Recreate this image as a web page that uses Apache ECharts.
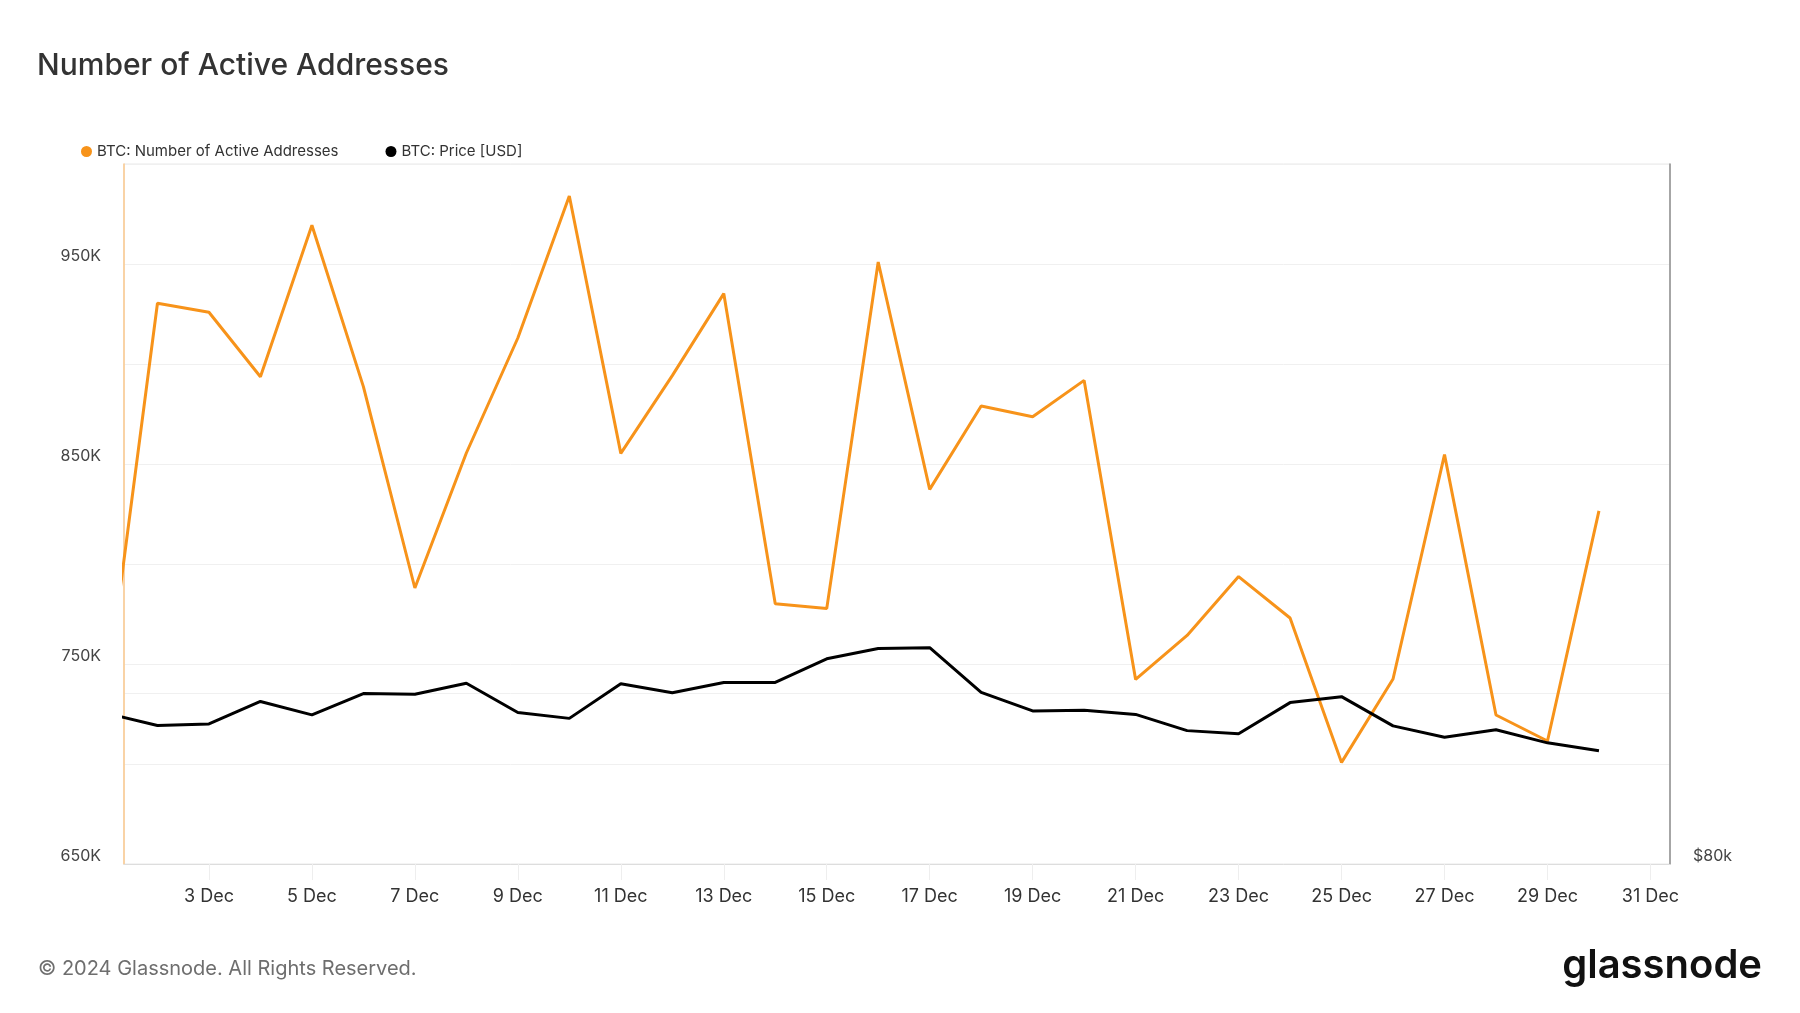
<!DOCTYPE html>
<html>
<head>
<meta charset="utf-8">
<script src="https://cdn.jsdelivr.net/npm/echarts@6/dist/echarts.min.js"></script>
<style>
  html, body { margin: 0; padding: 0; background: #fff; }
  #chart { width: 1800px; height: 1013px; }
</style>
</head>
<body>
<div id="chart"></div>
<script>
// ---- Data ----
const days = [1,2,3,4,5,6,7,8,9,10,11,12,13,14,15,16,17,18,19,20,21,22,23,24,25,26,27,28,29,30];
const activeAddresses = [733000, 930400, 925900, 893600, 969400, 888700, 788000, 855500, 913000, 984000,
                         855300, 894200, 935200, 780100, 777700, 951000, 837300, 879000, 873600, 891800,
                         742300, 764300, 793700, 773000, 700800, 742500, 854700, 724500, 711500, 826600];
const priceUSD = [97450, 95900, 96100, 98970, 97250, 100000, 99900, 101350, 97550, 96800,
                  101300, 100100, 101460, 101460, 104650, 106060, 106180, 100150, 97750, 97850,
                  97300, 95260, 94870, 98820, 99590, 95850, 94430, 95360, 93750, 92780];
const tickDays = [3,5,7,9,11,13,15,17,19,21,23,25,27,29,31];
const leftTickLabels = ['650K','750K','850K','950K'];
const rightTickLabel = '$80k';

const DAY = 86400000;
const ts = d => Date.UTC(2024, 11, d);
const xMin = ts(1) + 0.35 * DAY;
const xMax = ts(31) + 0.38 * DAY;
const tickValues = tickDays.map(ts);
const MONTHS = ['Jan','Feb','Mar','Apr','May','Jun','Jul','Aug','Sep','Oct','Nov','Dec'];

const orange = '#f7931a';
const FONT = 'Inter, "Noto Sans", sans-serif';

const chart = echarts.init(document.getElementById('chart'));
chart.setOption({
  animation: false,
  backgroundColor: '#ffffff',
  textStyle: { fontFamily: FONT },
  title: {
    text: 'Number of Active Addresses',
    left: 32, top: 46,
    textStyle: { fontFamily: FONT, fontSize: 30, fontWeight: 500, color: '#333333' }
  },
  legend: {
    left: 76, top: 139,
    itemWidth: 11, itemHeight: 11, itemGap: 47,
    icon: 'circle',
    textStyle: { fontFamily: FONT, fontSize: 15, color: '#333333' },
    data: ['BTC: Number of Active Addresses', 'BTC: Price [USD]']
  },
  grid: {
    left: 124, right: 130, top: 164, bottom: 149,
    show: true, borderColor: '#e8e8e8', borderWidth: 1, containLabel: false
  },
  xAxis: {
    type: 'value',
    min: xMin, max: xMax,
    axisLine: { show: true, lineStyle: { color: '#dddddd', width: 1 } },
    axisTick: { show: true, customValues: tickValues, length: 16, lineStyle: { color: '#eeeeee' } },
    splitLine: { show: false },
    axisLabel: {
      customValues: tickValues,
      margin: 24,
      fontFamily: FONT, fontSize: 18, color: '#333333',
      formatter: v => { const d = new Date(v); return d.getUTCDate() + ' ' + MONTHS[d.getUTCMonth()]; }
    }
  },
  yAxis: [
    {
      type: 'value',
      min: 650000, max: 1000000, interval: 50000,
      axisLine: { show: true, lineStyle: { color: '#fbc88c', width: 1.5 } },
      axisTick: { show: false },
      splitLine: { show: true, lineStyle: { color: '#f0f0f0', width: 1 } },
      axisLabel: {
        margin: 23,
        fontFamily: FONT, fontSize: 16, color: '#444444',
        verticalAlign: 'bottom',
        padding: [0, 0, 0, 0],
        formatter: v => {
          const k = Math.round(v / 1000);
          const lbl = k + 'K';
          return leftTickLabels.indexOf(lbl) >= 0 ? lbl : '';
        }
      }
    },
    {
      type: 'log', logBase: 10,
      min: 80000, max: 200000,
      position: 'right',
      axisLine: { show: true, lineStyle: { color: '#8c8c8c', width: 1.5 } },
      axisTick: { show: false },
      splitLine: { show: true, lineStyle: { color: '#f0f0f0', width: 1 } },
      axisLabel: {
        margin: 23,
        fontFamily: FONT, fontSize: 16, color: '#444444',
        verticalAlign: 'bottom',
        padding: [0, 0, 0, 0],
        showMinLabel: true,
        formatter: v => Math.abs(v - 80000) < 1 ? rightTickLabel : ''
      }
    }
  ],
  series: [
    {
      name: 'BTC: Number of Active Addresses',
      type: 'line',
      yAxisIndex: 0,
      data: days.map((d, i) => [ts(d), activeAddresses[i]]),
      showSymbol: false,
      symbol: 'circle',
      lineStyle: { color: orange, width: 3 },
      itemStyle: { color: orange },
      clip: true
    },
    {
      name: 'BTC: Price [USD]',
      type: 'line',
      yAxisIndex: 1,
      data: days.map((d, i) => [ts(d), priceUSD[i]]),
      showSymbol: false,
      symbol: 'circle',
      lineStyle: { color: '#000000', width: 3 },
      itemStyle: { color: '#000000' },
      clip: true
    }
  ],
  graphic: [
    {
      type: 'text', left: 38, top: 959,
      style: { text: '© 2024 Glassnode. All Rights Reserved.', fontFamily: FONT, fontSize: 20, fill: '#6e6e6e' }
    },
    {
      type: 'text', right: 38, top: 946,
      style: { text: 'glassnode', fontFamily: FONT, fontSize: 40, fontWeight: 600, fill: '#111111' }
    }
  ]
});
</script>
</body>
</html>
